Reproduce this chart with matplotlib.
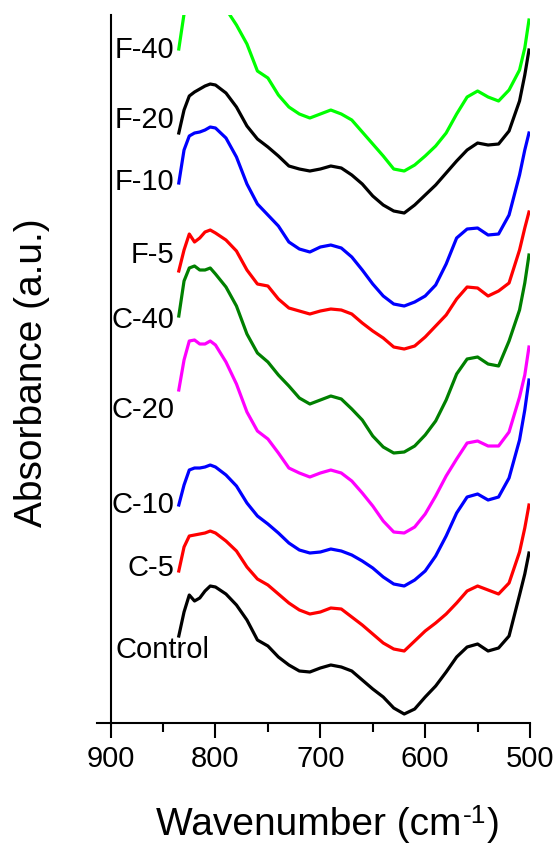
import matplotlib.pyplot as plt

plt.rcParams['font.family'] = ['Liberation Sans', 'DejaVu Sans']

# wavenumber grid (cm-1)
wavenumber = [835, 830, 825, 820, 815, 810, 805, 800,
              790, 780, 770, 760, 750, 740, 730, 720,
              710, 700, 690, 680, 670, 660, 650, 640,
              630, 620, 610, 600, 590, 580, 570, 560,
              550, 540, 530, 520, 510, 505, 501]

# stacked absorbance, arbitrary units (offset already included)
control = [87, 111, 128, 122, 125, 132, 137, 136,
           129, 118, 103, 83, 77, 66, 58, 52,
           51, 55, 58, 56, 52, 43, 34, 26,
           15, 9, 14, 26, 37, 51, 66, 76,
           79, 72, 75, 87, 128, 149, 170]
c5 = [152, 176, 187, 188, 189, 190, 192, 190,
      182, 172, 156, 144, 138, 129, 120, 113,
      109, 111, 115, 114, 106, 98, 89, 80,
      74, 72, 82, 92, 100, 109, 120, 132,
      137, 133, 129, 140, 171, 195, 218]
c10 = [218, 238, 253, 255, 255, 256, 258, 256,
       248, 237, 220, 207, 199, 190, 180, 173,
       170, 171, 174, 172, 168, 162, 155, 146,
       139, 137, 143, 152, 167, 187, 210, 226,
       229, 223, 226, 245, 283, 313, 343]
c20 = [333, 363, 382, 383, 379, 379, 382, 378,
       361, 339, 311, 292, 284, 270, 255, 250,
       246, 250, 253, 250, 242, 230, 217, 202,
       191, 190, 196, 209, 227, 247, 264, 280,
       282, 277, 277, 291, 326, 348, 376]
c40 = [407, 442, 455, 457, 453, 453, 455, 449,
       436, 417, 389, 370, 361, 348, 337, 325,
       319, 323, 327, 324, 314, 303, 287, 276,
       270, 271, 277, 288, 302, 323, 349, 364,
       366, 359, 357, 382, 413, 440, 468]
f5 = [452, 473, 489, 481, 485, 491, 493, 490,
      483, 472, 453, 439, 437, 424, 415, 412,
      409, 412, 414, 413, 409, 400, 392, 385,
      376, 374, 377, 386, 397, 408, 424, 436,
      435, 427, 432, 440, 473, 495, 511]
f10 = [540, 573, 587, 590, 591, 593, 596, 595,
       585, 566, 539, 519, 508, 497, 481, 474,
       471, 476, 478, 475, 466, 453, 439, 427,
       419, 417, 421, 427, 438, 459, 485, 494,
       495, 488, 489, 508, 548, 573, 590]
f20 = [590, 613, 627, 631, 634, 637, 639, 638,
       630, 616, 597, 584, 576, 567, 557, 554,
       552, 554, 557, 555, 548, 539, 527, 518,
       512, 510, 518, 528, 538, 550, 562, 573,
       580, 578, 579, 592, 622, 648, 673]
f40 = [674, 709, 711, 715, 718, 721, 723, 722,
       714, 698, 679, 652, 645, 628, 616, 609,
       605, 609, 613, 609, 603, 591, 579, 567,
       554, 552, 558, 567, 577, 590, 609, 626,
       632, 626, 622, 633, 653, 675, 703]

names = ['Control', 'C-5', 'C-10', 'C-20', 'C-40', 'F-5', 'F-10', 'F-20', 'F-40']
series = [control, c5, c10, c20, c40, f5, f10, f20, f40]
colors = ['black', 'red', 'blue', 'magenta', '#008000',
          'red', 'blue', 'black', '#00ff00']
# label heights (same units as the curves)
label_y = [73, 155, 218, 313, 403, 468, 541, 603, 673]

fig = plt.figure(figsize=(5.55, 8.48), dpi=100)
ax = fig.add_axes([0.1748, 0.1474, 0.7802, 0.8349])

for y, c in zip(series, colors):
    ax.plot(wavenumber, y, color=c, lw=2.3, solid_joinstyle='round')

for name, ly in zip(names, label_y):
    if name == 'Control':
        ax.text(851, ly, name, fontsize=21, ha='center', va='center')
    else:
        ax.text(839, ly, name, fontsize=21, ha='right', va='center')

ax.set_xlim(913, 500)
ax.set_ylim(0, 708)
ax.set_xticks([900, 800, 700, 600, 500])
ax.set_xticks([850, 750, 650, 550], minor=True)
ax.set_yticks([])
ax.tick_params(axis='x', which='major', length=10.8, width=1.5, direction='out',
               labelsize=21, pad=5)
ax.tick_params(axis='x', which='minor', length=6.5, width=1.5, direction='out')
ax.spines['top'].set_visible(False)
ax.spines['right'].set_visible(False)
ax.spines['left'].set_position(('data', 900))
ax.spines['left'].set_linewidth(1.5)
ax.spines['bottom'].set_linewidth(1.5)

# x label built from pieces so the superscript keeps a plain hyphen
r = fig.canvas.get_renderer()
base_y = 0.0153
t1 = fig.text(0, base_y, 'Wavenumber (cm', fontsize=28, va='baseline')
t2 = fig.text(0, base_y + 12 / 848, '-1', fontsize=19, va='baseline')
t3 = fig.text(0, base_y, ')', fontsize=28, va='baseline')
w1 = t1.get_window_extent(r).width
w2 = t2.get_window_extent(r).width
w3 = t3.get_window_extent(r).width
x0 = 328 - (w1 + w2 + w3 + 2) / 2
t1.set_x(x0 / 555)
t2.set_x((x0 + w1 + 1) / 555)
t3.set_x((x0 + w1 + w2 + 2) / 555)

fig.text(0.058, 0.56, 'Absorbance (a.u.)', fontsize=28, rotation=90,
         ha='center', va='center')

fig.savefig('out.png', dpi=100)
